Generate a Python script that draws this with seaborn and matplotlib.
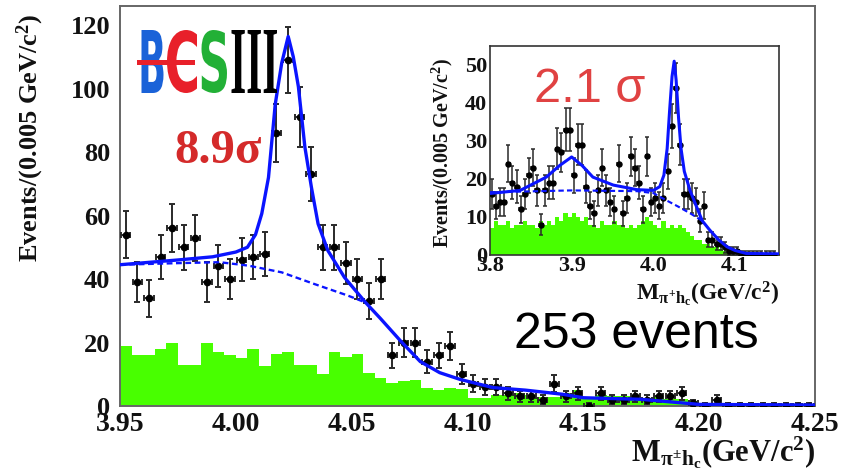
import numpy as np
import pandas as pd
import matplotlib
matplotlib.use("Agg")
import matplotlib.pyplot as plt
import seaborn as sns
from matplotlib.textpath import TextPath
from matplotlib.patches import PathPatch, Rectangle
from matplotlib.font_manager import FontProperties
from matplotlib.transforms import Affine2D, IdentityTransform
from matplotlib.ticker import MultipleLocator

# ---------------- data ----------------
# main spectrum: 0.005 GeV bins from 3.95 to 4.25
main_lo, main_hi, bin_w = 3.95, 4.25, 0.005
main_counts = [54, 39, 34, 47, 56, 50, 53, 39, 44, 40,
               46, 47, 48, 86, 109, 91, 73, 50, 50, 45,
               40, 33, 40, 16, 20, 20, 14, 16, 19, 10,
               7, 6, 6, 4, 3, 3, 2, 7, 3, 4,
               0, 4, 2, 2, 3, 2, 3, 3, 4, 1,
               0, 2, 0, 0, 0, 0, 0, 0, 0, 0]
main_bkg_hist = [19, 16, 16, 18, 20, 13, 13, 20, 17, 16,
                 15, 18, 12.5, 16.5, 17, 13, 13, 10, 17, 15.5,
                 16.5, 10.5, 8.7, 7.4, 8, 8.1, 5.8, 5, 5.8, 5.3,
                 2.6, 2.4, 3.5, 3.5, 4.2, 3.5, 2.8, 2.8, 4.2, 5,
                 2.6, 3.5, 3, 3, 2.5, 2.5, 3, 2.2, 2.2, 1.5,
                 1, 0.5, 0.4, 0.4, 0.3, 0.3, 0.3, 0.3, 0.3, 0.3]
fit_x = [3.950, 3.975, 3.990, 4.000, 4.005, 4.0085, 4.0112, 4.0141, 4.017, 4.0198,
         4.0226, 4.0248, 4.027, 4.0298, 4.0326, 4.0355, 4.0397, 4.0469, 4.056, 4.0625,
         4.0711, 4.0796, 4.088, 4.0967, 4.111, 4.125, 4.141, 4.150, 4.175, 4.200, 4.250]
fit_y = [44.5, 46, 47, 48.5, 50, 54, 60.6, 72, 95, 108,
         116.4, 110, 100.6, 81.6, 69, 57.4, 49, 40.5, 32.6, 27.5,
         20.5, 14, 10.5, 8.4, 5.8, 5, 3.7, 2.6, 2.1, 0.5, 0.3]
bkg_x = [3.950, 3.975, 3.993, 4.0056, 4.0198, 4.034, 4.0483, 4.056]
bkg_y = [44.5, 45, 45.3, 44.2, 42.1, 38.4, 34.8, 32.6]

# inset spectrum: 0.005 GeV bins from 3.80 to 4.15
ins_lo, ins_hi = 3.80, 4.15
ins_counts = [16, 13, 14, 14, 24, 19, 18, 12, 16, 21,
              23, 17, 8, 17, 19, 19, 28, 27, 33, 33,
              21, 29, 29, 18, 13, 11, 17, 23, 17, 14,
              12, 24, 11, 15, 26, 23, 19, 12, 26, 14,
              15, 13, 15, 22, 34, 44, 29, 16, 16, 15,
              14, 9, 13, 4, 4, 3, 3, 2, 1, 1,
              1, 0, 0, 0, 0, 0, 0, 0, 0, 0]
ins_bkg_hist = [7, 9, 8, 8, 9, 7, 8, 8, 9, 8,
                8, 7, 9, 8, 9, 8, 10, 9, 11, 10,
                11, 10, 9, 10, 8, 8, 7, 9, 8, 8,
                9, 8, 8, 7, 8, 7, 8, 9, 10, 9,
                8, 7, 9, 7, 8, 7, 8, 7, 6, 5,
                4, 4, 3, 3, 2, 2, 1.5, 1, 0.5, 0.3,
                0, 0, 0, 0, 0, 0, 0, 0, 0, 0]
ins_fit_x = [3.800, 3.837, 3.869, 3.885, 3.900, 3.913, 3.926, 3.951, 3.980, 4.000,
             4.008, 4.013, 4.017, 4.020, 4.023, 4.0256, 4.028, 4.031, 4.034, 4.038,
             4.045, 4.053, 4.060, 4.069, 4.080, 4.090, 4.100, 4.114, 4.155]
ins_fit_y = [16.2, 17, 20.5, 23.5, 25.8, 23.5, 20.5, 18.4, 17.2, 17,
             18, 21, 28, 38, 47, 51, 46, 36, 28, 22,
             17, 12.7, 9, 6.6, 4, 2.2, 1.2, 0.4, 0.3]
ins_bkg_x = [3.800, 3.900, 3.980, 4.000, 4.015, 4.030, 4.045, 4.060]
ins_bkg_y = [16.5, 17, 16.8, 16.3, 14.5, 12.8, 11, 9]

# ---------------- style ----------------
sns.set_theme(style="white")
plt.rcParams["font.family"] = ["Liberation Serif", "DejaVu Serif"]
plt.rcParams["mathtext.fontset"] = "custom"
plt.rcParams["mathtext.rm"] = "Liberation Serif:bold"
plt.rcParams["mathtext.it"] = "Liberation Serif:bold"
plt.rcParams["mathtext.bf"] = "Liberation Serif:bold"

GREEN = "#48ff00"
BLUE = "#0a14ff"
W, H = 843, 472

fig = plt.figure(figsize=(W / 100, H / 100), dpi=100)
fig.patch.set_facecolor("white")


def hist_frame(lo, counts, bkg):
    n = len(counts)
    centers = lo + bin_w * (np.arange(n) + 0.5)
    return pd.DataFrame({"x": centers, "n": np.asarray(counts, float),
                         "bkg": np.asarray(bkg, float)})


def draw_panel(ax, df, lo, hi, fx, fy, bx, by, lw_fit, ms, elw, cap):
    edges = [float(e) for e in lo + bin_w * np.arange(len(df) + 1)]
    sns.histplot(data=df, x="x", weights="bkg", bins=edges, element="step",
                 fill=True, color=GREEN, alpha=1.0, linewidth=0, ax=ax, zorder=1)
    err_hi = np.where(df["n"] > 0, np.sqrt(df["n"]), 1.0)
    err_lo = np.sqrt(df["n"].to_numpy())
    ax.errorbar(df["x"], df["n"], yerr=[err_lo, err_hi], xerr=bin_w * 0.4,
                fmt="o", color="black", ecolor="#2a2a2a", ms=ms, elinewidth=elw,
                capsize=cap, capthick=elw, zorder=3)
    sns.lineplot(x=bx, y=by, ax=ax, color=BLUE, lw=lw_fit * 0.7,
                 linestyle=(0, (2.5, 1.5)), zorder=4)
    sns.lineplot(x=fx, y=fy, ax=ax, color=BLUE, lw=lw_fit, zorder=5)
    ax.set_xlim(lo, hi)
    ax.set_xlabel("")
    ax.set_ylabel("")
    ax.tick_params(direction="in", which="both", top=False, right=False)


# ---------------- main panel ----------------
ax = fig.add_axes([120 / W, 1 - 406 / H, 695 / W, 400 / H])
main_df = hist_frame(main_lo, main_counts, main_bkg_hist)
draw_panel(ax, main_df, main_lo, main_hi, fit_x, fit_y, bkg_x, bkg_y,
           lw_fit=2.4, ms=4.5, elw=1.4, cap=2)
ax.set_ylim(0, 126)
ax.xaxis.set_minor_locator(MultipleLocator(0.01))
ax.yaxis.set_major_locator(MultipleLocator(20))
ax.yaxis.set_minor_locator(MultipleLocator(5))
ax.set_xticks(np.arange(3.95, 4.2501, 0.05))
ax.set_xticklabels(["3.95", "4.00", "4.05", "4.10", "4.15", "4.20", "4.25"])
ax.tick_params(axis="both", which="major", length=9, width=1.2, color="#555555")
ax.tick_params(axis="both", which="minor", length=5, width=1.0, color="#555555")
ax.tick_params(axis="x", labelsize=20, pad=4)
ax.tick_params(axis="y", labelsize=19, pad=7)
for lab in ax.get_xticklabels() + ax.get_yticklabels():
    lab.set_fontweight("bold")
    lab.set_color("#111111")
for sp in ax.spines.values():
    sp.set_color("#666666")
    sp.set_linewidth(1.4)

fig.text(30 / W, 1 - 138 / H, r"Events/(0.005 GeV/c$^{2}$)", rotation=90,
         ha="center", va="center", fontsize=19, fontweight="bold", color="#111111")
fig.text(815 / W, 1 - 453 / H, r"M$_{\pi^{\pm}h_c}$(GeV/c$^{2}$)",
         ha="right", va="center", fontsize=22, fontweight="bold", color="#111111")

fig.text(218 / W, 1 - 151 / H, "8.9σ", ha="center", va="center",
         fontsize=35, fontweight="bold", color="#d42a2a")
fig.text(514 / W, 1 - 335 / H, "253 events", ha="left", va="center",
         fontsize=36, family="Liberation Sans", color="black")

# ---------------- inset panel ----------------
ins = fig.add_axes([490 / W, 1 - 255 / H, 289 / W, 209 / H])
ins.set_facecolor("white")
ins_df = hist_frame(ins_lo, ins_counts, ins_bkg_hist)
draw_panel(ins, ins_df, ins_lo, 4.154, ins_fit_x, ins_fit_y, ins_bkg_x, ins_bkg_y,
           lw_fit=2.2, ms=3.6, elw=1.1, cap=1.3)
ins.set_ylim(0, 55)
ins.set_xticks([3.8, 3.9, 4.0, 4.1])
ins.set_xticklabels(["3.8", "3.9", "4.0", "4.1"])
ins.xaxis.set_minor_locator(MultipleLocator(0.02))
ins.set_yticks([0, 10, 20, 30, 40, 50])
ins.yaxis.set_minor_locator(MultipleLocator(2))
ins.tick_params(axis="both", which="major", length=6, width=1.0, color="#333333")
ins.tick_params(axis="both", which="minor", length=3, width=0.8, color="#333333")
ins.tick_params(axis="x", labelsize=16, pad=1)
ins.tick_params(axis="y", labelsize=16, pad=2)
for lab in ins.get_xticklabels() + ins.get_yticklabels():
    lab.set_fontweight("bold")
    lab.set_color("#111111")
for sp in ins.spines.values():
    sp.set_color("#333333")
    sp.set_linewidth(1.2)

fig.text(442 / W, 1 - 153 / H, r"Events/(0.005 GeV/c$^{2}$)", rotation=90,
         ha="center", va="center", fontsize=14.5, fontweight="bold", color="#111111")
fig.text(779 / W, 1 - 294 / H, r"M$_{\pi^{+}h_c}$(GeV/c$^{2}$)",
         ha="right", va="center", fontsize=17, fontweight="bold", color="#111111")
fig.text(590 / W, 1 - 89 / H, "2.1 σ", ha="center", va="center",
         fontsize=35, family="Liberation Sans", color="#e04242")

# ---------------- BESIII logo ----------------
def logo_glyph(text, x0, x1, ytop, ybot, color, family, weight="bold"):
    fp = FontProperties(family=family, weight=weight)
    path = TextPath((0, 0), text, size=100, prop=fp)
    bb = path.get_extents()
    tr = (Affine2D().translate(-bb.x0, -bb.y0)
          .scale((x1 - x0) / bb.width, (ybot - ytop) / bb.height)
          .translate(x0, H - ybot))
    fig.add_artist(PathPatch(path, transform=tr + IdentityTransform(),
                             facecolor=color, edgecolor="none", zorder=10))


logo_glyph("B", 141.5, 163.5, 30, 93, "#1a62d8", "DejaVu Sans")
logo_glyph("C", 167, 197, 30, 93, "#e8202a", "DejaVu Sans")
logo_glyph("S", 201.5, 227, 30, 93, "#22b036", "DejaVu Sans")
logo_glyph("III", 231.5, 277, 30, 93, "black", "Liberation Serif")
fig.add_artist(Rectangle((137, H - 65), 58, 5, transform=IdentityTransform(),
                         facecolor="#e8202a", edgecolor="none", zorder=11))

fig.savefig("out.png", dpi=100)
